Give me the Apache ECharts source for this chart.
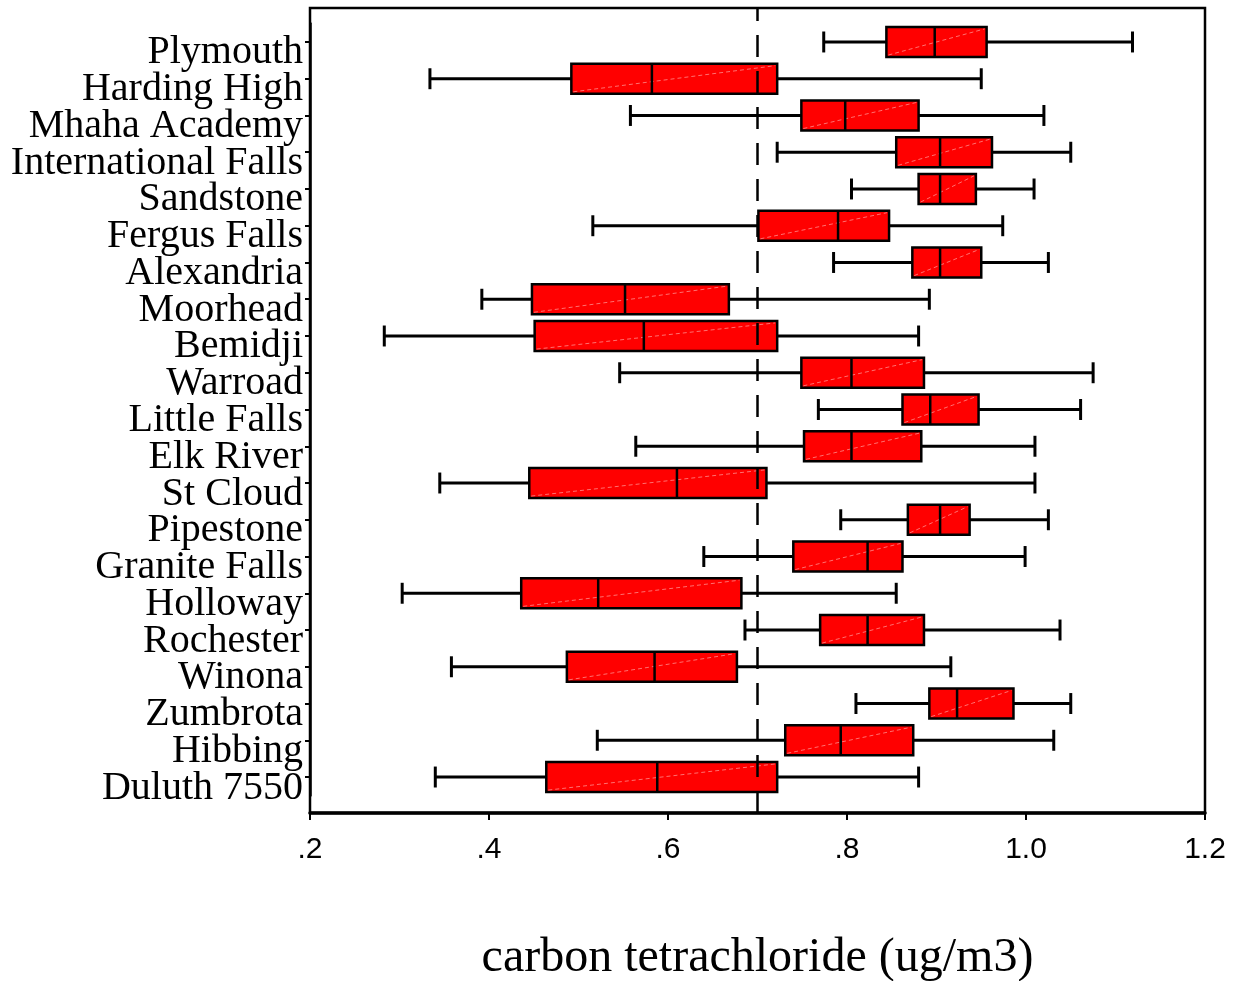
<!DOCTYPE html>
<html>
<head>
<meta charset="utf-8">
<script src="https://cdn.jsdelivr.net/npm/echarts@6/dist/echarts.min.js"></script>
<style>
html, body { margin: 0; padding: 0; background: #fff; }
#main { width: 1234px; height: 981px; }
</style>
</head>
<body>
<div id="main"></div>
<script>
'use strict';

/* data */
var sites = ['Plymouth', 'Harding High', 'Mhaha Academy', 'International Falls', 'Sandstone',
	'Fergus Falls', 'Alexandria', 'Moorhead', 'Bemidji', 'Warroad', 'Little Falls', 'Elk River',
	'St Cloud', 'Pipestone', 'Granite Falls', 'Holloway', 'Rochester', 'Winona', 'Zumbrota',
	'Hibbing', 'Duluth 7550'];
var lows    = [0.774, 0.334, 0.558, 0.722, 0.805, 0.516, 0.785, 0.392, 0.283, 0.546, 0.768, 0.564, 0.345, 0.793, 0.640, 0.303, 0.686, 0.358, 0.810, 0.521, 0.340];
var q1s     = [0.844, 0.492, 0.749, 0.855, 0.880, 0.701, 0.873, 0.448, 0.451, 0.749, 0.862, 0.752, 0.445, 0.868, 0.740, 0.436, 0.770, 0.487, 0.892, 0.731, 0.464];
var medians = [0.898, 0.582, 0.798, 0.904, 0.904, 0.790, 0.904, 0.552, 0.573, 0.805, 0.893, 0.805, 0.610, 0.904, 0.823, 0.522, 0.823, 0.585, 0.923, 0.793, 0.588];
var q3s     = [0.956, 0.722, 0.880, 0.962, 0.944, 0.847, 0.950, 0.668, 0.722, 0.886, 0.947, 0.883, 0.710, 0.937, 0.862, 0.682, 0.886, 0.677, 0.986, 0.874, 0.722];
var highs   = [1.119, 0.950, 1.020, 1.050, 1.009, 0.974, 1.025, 0.892, 0.880, 1.075, 1.061, 1.010, 1.010, 1.025, 0.999, 0.855, 1.038, 0.916, 1.050, 1.031, 0.880];
var refValue = 0.7;
var xTickLabels = ['.2', '.4', '.6', '.8', '1.0', '1.2'];

var boxData = sites.map(function (s, i) {
	return [i, lows[i], q1s[i], medians[i], q3s[i], highs[i]];
});

function renderBox(params, api) {
	var cat = api.value(0);
	var lo = api.coord([api.value(1), cat]);
	var q1 = api.coord([api.value(2), cat]);
	var md = api.coord([api.value(3), cat]);
	var q3 = api.coord([api.value(4), cat]);
	var hi = api.coord([api.value(5), cat]);
	var band = api.size([0, 1])[1];
	var bh = band * 0.82;
	var ch = band * 0.57;
	var y = lo[1];
	var line = { stroke: '#000', lineWidth: 3 };
	return {
		type: 'group',
		children: [
			{ type: 'line', shape: { x1: lo[0], y1: y, x2: q1[0], y2: y }, style: line },
			{ type: 'line', shape: { x1: q3[0], y1: y, x2: hi[0], y2: y }, style: line },
			{ type: 'line', shape: { x1: lo[0], y1: y - ch / 2, x2: lo[0], y2: y + ch / 2 }, style: line },
			{ type: 'line', shape: { x1: hi[0], y1: y - ch / 2, x2: hi[0], y2: y + ch / 2 }, style: line },
			{ type: 'rect', shape: { x: q1[0], y: y - bh / 2, width: q3[0] - q1[0], height: bh },
				style: { fill: '#ff0000', stroke: '#000', lineWidth: 2.5 } },
			{ type: 'line', shape: { x1: q1[0] + 2, y1: y + bh / 2 - 2, x2: q3[0] - 2, y2: y - bh / 2 + 2 },
				style: { stroke: '#ff7070', lineWidth: 1, lineDash: [4, 3] } },
			{ type: 'line', shape: { x1: md[0], y1: y - bh / 2, x2: md[0], y2: y + bh / 2 }, style: { stroke: '#000', lineWidth: 2.5 } }
		]
	};
}

var chart = echarts.init(document.getElementById('main'));

var option = {
	backgroundColor: '#fff',
	animation: false,
	grid: [
		{ left: 310, right: 29, top: 8, bottom: 168, outerBoundsMode: 'none', containLabel: false,
			show: true, borderColor: '#000', borderWidth: 2.5, backgroundColor: 'transparent' },
		{ left: 310, right: 29, top: 23.6, bottom: 185.6, outerBoundsMode: 'none', containLabel: false }
	],
	xAxis: [
		{
			gridIndex: 0,
			type: 'value',
			min: 0.2,
			max: 1.2,
			interval: 0.2,
			name: 'carbon tetrachloride (ug/m3)',
			nameLocation: 'middle',
			nameGap: 121,
			nameTextStyle: { fontFamily: 'Liberation Serif', fontSize: 48, color: '#000' },
			axisLine: { show: true, lineStyle: { color: '#000', width: 3.5 } },
			axisTick: { show: true, length: 7, lineStyle: { color: '#000', width: 2 } },
			axisLabel: {
				margin: 22,
				fontFamily: "'Liberation Sans Narrow', 'Liberation Sans'",
				fontSize: 30,
				color: '#000',
				formatter: function (v) { return xTickLabels[Math.round((v - 0.2) / 0.2)]; }
			},
			splitLine: { show: false }
		},
		{
			gridIndex: 1,
			type: 'value',
			min: 0.2,
			max: 1.2,
			show: false
		}
	],
	yAxis: [
		{ gridIndex: 0, type: 'value', min: 0, max: 1, show: false },
		{
			gridIndex: 1,
			type: 'category',
			data: sites,
			inverse: true,
			axisLine: { show: true, lineStyle: { color: '#000', width: 2.5 } },
			axisTick: { show: true, alignWithLabel: true, length: 5, lineStyle: { color: '#000', width: 2 } },
			axisLabel: {
				interval: 0,
				hideOverlap: false,
				margin: 7,
				fontFamily: 'Liberation Serif',
				fontSize: 40,
				color: '#000',
				verticalAlign: 'top',
				lineHeight: 22
			},
			splitLine: { show: false }
		}
	],
	series: [
		{
			type: 'custom',
			xAxisIndex: 1,
			yAxisIndex: 1,
			renderItem: renderBox,
			encode: { x: [1, 2, 3, 4, 5], y: 0 },
			data: boxData,
			z: 2
		},
		{
			type: 'line',
			xAxisIndex: 0,
			yAxisIndex: 0,
			data: [],
			z: 10,
			markLine: {
				silent: true,
				symbol: ['none', 'none'],
				label: { show: false },
				lineStyle: { color: '#000', type: [22, 14], width: 2.5 },
				data: [{ xAxis: refValue }]
			}
		}
	]
};
chart.setOption(option);
</script>
</body>
</html>
